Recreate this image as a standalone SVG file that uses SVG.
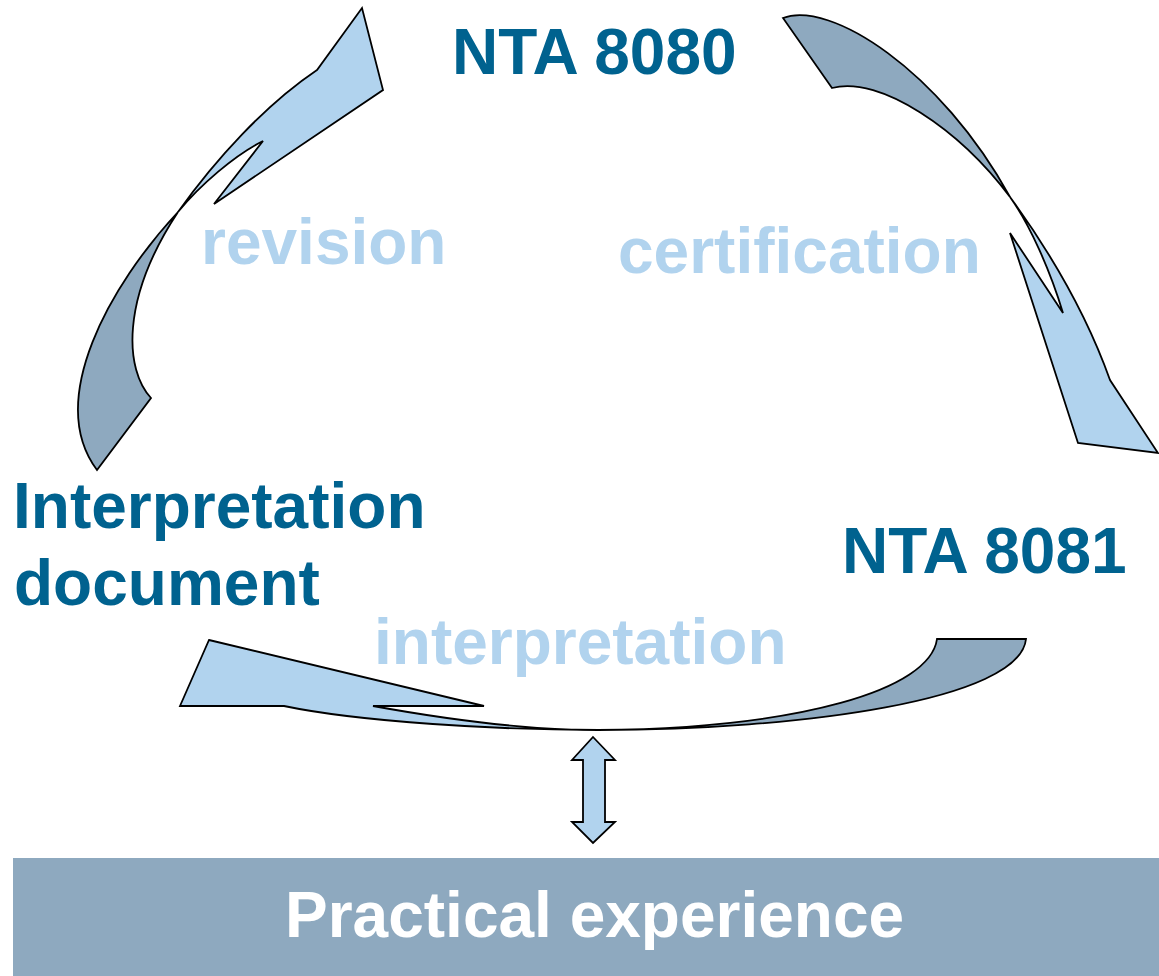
<svg xmlns="http://www.w3.org/2000/svg" width="1159" height="976" viewBox="0 0 1159 976">
<style>
.lt{fill:#B1D3EE;stroke:#000;stroke-width:1.8;stroke-linejoin:miter}
.dk{fill:#8EA9BF;stroke:#000;stroke-width:1.8;stroke-linejoin:miter}
.t{font-family:"Liberation Sans",Arial,sans-serif;font-weight:bold;font-size:64px}
.tb{fill:#00628F}
.tl{fill:#B1D3EE}
</style>
<rect width="1159" height="976" fill="#fff"/>
<g id="connectors">
<g id="revision-arrow">
<path class="lt" d="M178,212 C215,160 265,105 317,70 L362,8 L383,90 L214,204 L263,141 C235,155 200,185 178,212 Z"/>
<path class="dk" d="M178,212 C110,285 45,400 97,470 L151,398 C125,370 120,300 178,212 Z"/>
</g>
<g id="certification-arrow">
<path class="dk" d="M783,18 C830,0 940,70 1010,197 C960,130 880,75 832,88 Z"/>
<path class="lt" d="M1010,197 C1045,245 1085,310 1110,380 L1158,453 L1078,443 L1010,233 L1063,313 C1050,270 1030,225 1010,197 Z"/>
</g>
<g id="interpretation-arrow">
<path class="lt" d="M209,640 L484,706 L373,706 C450,720 530,730 598,730 C500,730 360,722 284,706 L180,706 Z"/>
<path class="dk" d="M598,730 C800,730 1020,700 1026,639 L937,639 C930,690 800,728 598,730 Z"/>
</g>
<path id="double-arrow" class="lt" d="M593,737 L615,760 L605,760 L605,822 L615,822 L593,843 L572,822 L583,822 L583,760 L572,760 Z"/>
</g>
<g id="nta8080"><text class="t tb" x="452" y="74">NTA 8080</text></g>
<g id="nta8081"><text class="t tb" x="842" y="573">NTA 8081</text></g>
<g id="interpretation-document"><text class="t tb" x="13" y="528">Interpretation</text><text class="t tb" x="14" y="605">document</text></g>
<g id="label-revision"><text class="t tl" x="201" y="264">revision</text></g>
<g id="label-certification"><text class="t tl" x="618" y="273">certification</text></g>
<g id="label-interpretation"><text class="t tl" x="374" y="664">interpretation</text></g>
<g id="practical-experience">
<rect x="13" y="858" width="1146" height="118" fill="#8EA9BF"/>
<text class="t" fill="#fff" x="285" y="937">Practical experience</text>
</g>
</svg>
